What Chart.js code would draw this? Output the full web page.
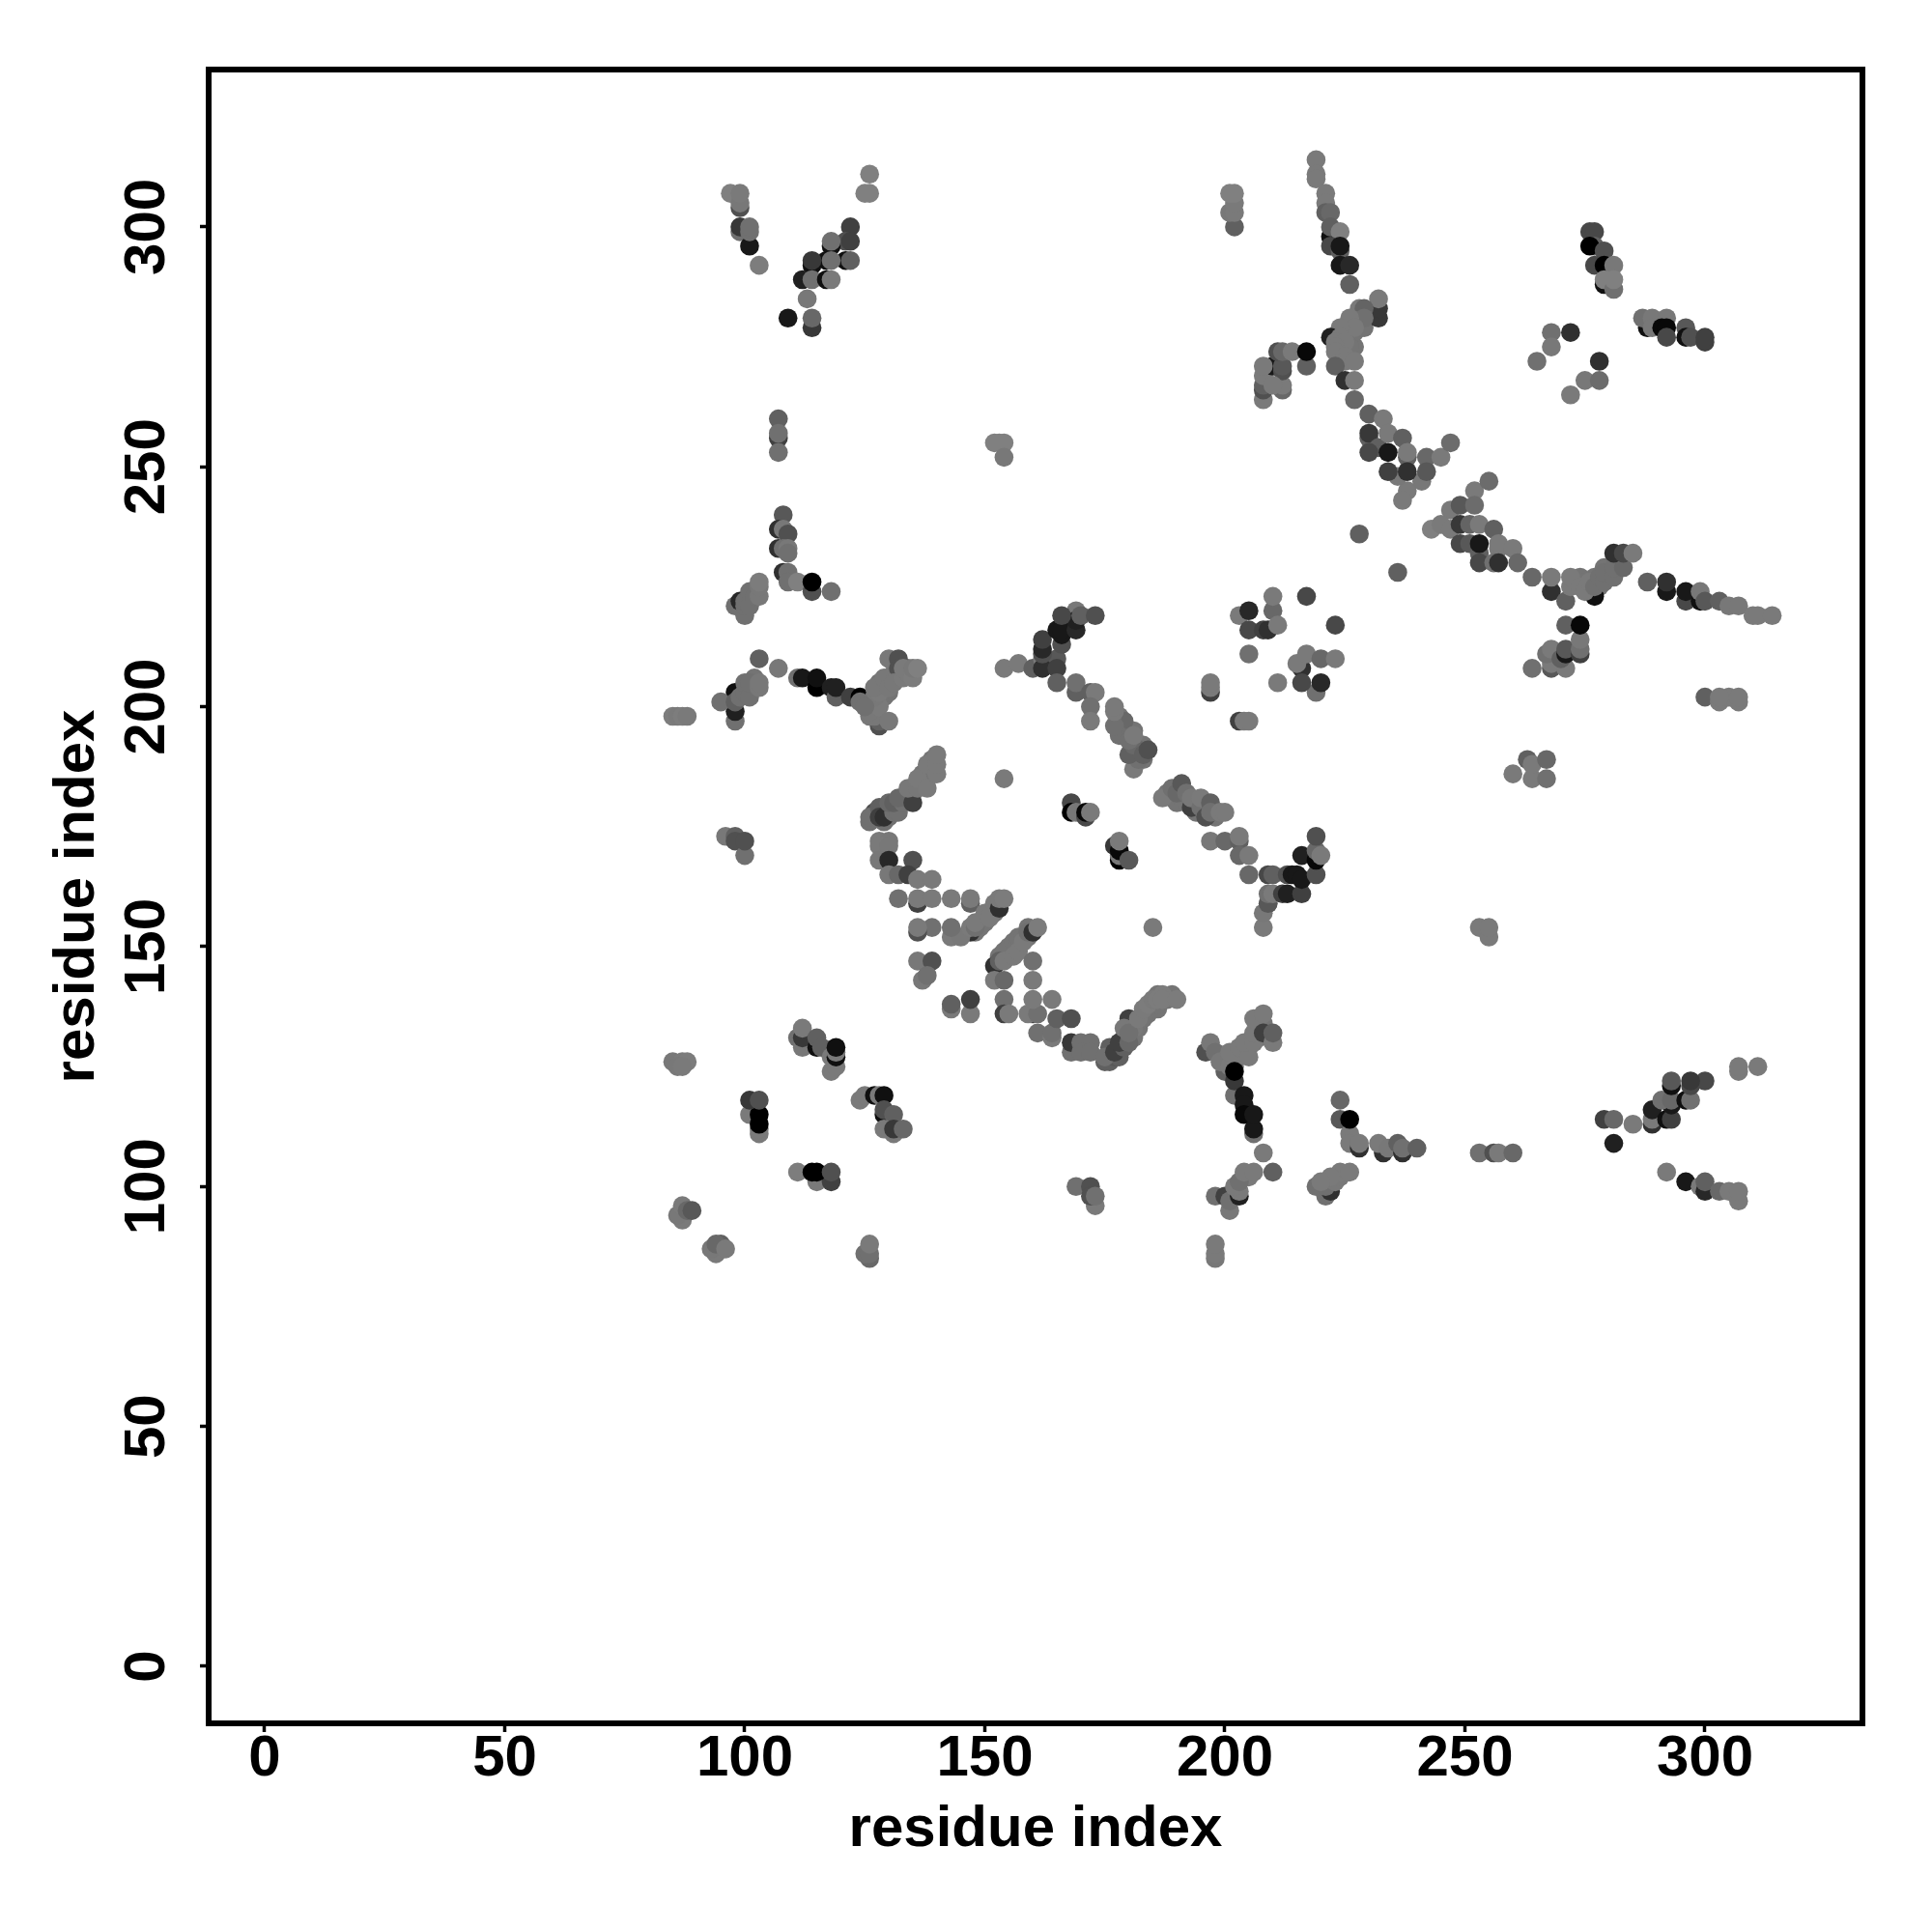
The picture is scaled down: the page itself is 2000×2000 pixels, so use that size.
<!DOCTYPE html>
<html>
<head>
<meta charset="utf-8">
<title>residue contacts</title>
<script src="https://cdn.jsdelivr.net/npm/chart.js@4"></script>
<style>
	html, body { margin: 0; padding: 0; background: #fff; }
	canvas { display: block; }
</style>
</head>
<body>
<canvas id="contactChart" width="2000" height="2000"></canvas>
<script>
// contacts in drawing order (one line per cluster)
var contactX = [
	127,128,129,130,131,133,134,135,136,137,137,138,138,139,139,139,
	179,179,181,182,182,184,184,186,185,186,187,188,189,186,183,181,
	148,149,149,150,150,151,152,152,153,
	153,154,155,155,156,157,157,158,159,159,
	273,274,275,276,277,278,279,280,280,282,282,
	226,227,225,226,227,228,229,230,229,224,226,
	178,178,179,180,181,182,182,183,183,
	188,189,190,191,192,194,195,194,198,
	202,204,205,207,207,208,200,202,
	129,128,130,131,134,129,130,127,128,
	100,102,102,102,
	97,99,99,99,99,99,101,101,101,103,
	126,125,126,122,121,122,118,118,121,122,117,118,114,114,112,114,117,118,113,109,114,114,
	107,107,107,107,152,153,154,154,
	108,107,108,109,107,108,109,109,108,109,109,111,114,114,118,
	98,99,100,100,100,101,101,102,103,103,103,
	103,107,111,112,115,115,118,119,119,122,124,
	85,86,87,88,98,98,98,95,98,99,100,100,101,101,103,103,
	128,128,126,127,126,128,127,128,130,127,129,130,130,132,132,131,133,134,133,135,135,136,
	124,125,
	96,98,98,100,100,
	126,129,127,126,128,130,128,129,131,132,130,131,133,132,135,134,136,136,138,138,140,140,140,
	128,130,128,130,128,130,135,
	130,132,134,136,139,132,136,136,139,143,147,147,
	143,147,145,147,148,148,150,151,152,153,153,154,139,136,136,143,
	136,139,137,138,143,143,147,147,
	152,152,154,153,154,156,157,158,159,160,161,160,160,
	154,154,155,
	160,159,161,160,164,161,164,164,165,168,168,168,170,172,170,172,
	175,176,177,178,176,175,177,179,178,180,180,179,181,180,182,183,184,185,187,186,187,190,
	196,197,198,200,199,201,203,201,203,205,204,206,206,206,208,208,210,210,
	202,202,202,204,204,204,206,206,206,208,
	201,198,200,201,203,203,202,205,203,204,206,210,
	198,198,198,
	224,224,226,226,226,228,228,233,232,234,237,236,237,240,
	253,256,257,260,
	221,219,222,221,223,224,224,226,222,220,
	279,281,285,281,289,289,289,292,293,293,291,293,296,297,293,297,300,297,293,
	307,307,311,
	292,296,299,300,300,303,305,307,307,
	85,87,88,86,87,
	111,112,112,112,115,115,116,118,118,119,119,119,119,
	103,103,101,103,103,101,103,
	124,125,127,128,129,129,129,131,129,131,131,133,
	111,115,118,114,115,118,
	87,86,87,88,89,
	94,93,95,94,96,
	126,125,126,126,
	169,173,172,172,173,
	202,201,202,202,201,202,
	219,219,219,221,221,221,222,222,222,224,222,224,224,224,226,226,
	232,232,232,228,229,229,226,227,224,222,224,223,225,223,223,225,225,227,223,225,227,227,
	208,208,208,208,210,208,212,212,212,210,212,211,212,214,217,217,
	230,233,230,230,232,234,237,230,234,238,238,242,245,247,238,237,236,241,234,238,242,
	228,236,
	247,243,245,247,249,249,249,252,252,255,251,253,256,251,253,253,257,257,260,253,256,257,261,
	264,268,268,271,277,272,272,274,275,276,277,278,279,279,281,281,283,281,283,285,
	288,292,292,296,296,299,299,300,303,305,307,310,311,314,
	264,268,268,267,268,271,270,271,271,274,274,274,271,274,
	300,303,305,307,303,307,
	260,263,264,264,267,267,
	253,255,255,
	210,210,217,203,205,205,208,209,211,223,205,216,215,217,220,223,211,219,216,220,
	197,197,197,203,204,205,
	154,157,160,162,165,162,165,162,162,162,166,166,165,166,169,169,169,170,166,173,
	165,169,169,172,173,172,172,
	181,182,180,181,179,179,178,177,177,177,180,181,183,184,
	187,189,190,191,192,193,193,195,195,197,196,197,199,200,
	197,200,203,203,203,205,205,
	208,208,209,209,209,210,209,210,212,213,213,216,214,215,216,216,219,219,219,220,219,
	154,185,
	168,168,169,171,171,172,
	178,178,177,178,178,180,
	276,277,277,276,279,277,279,281,279,279,281,281,
	288,287,289,289,292,291,292,296,292,296,297,300,300,
	268,268,265,272,278,275,278,272
];

var contactY = [
	177,178,178,179,179,181,182,182,184,184,186,185,186,186,187,189,
	130,131,133,134,133,136,137,137,138,138,139,139,140,140,135,131,
	153,154,155,155,156,157,157,158,159,
	148,149,149,150,151,151,152,152,152,154,
	226,227,226,225,227,225,229,227,229,229,230,
	273,275,274,277,278,281,280,282,279,275,275,
	196,198,195,195,195,192,191,192,189,
	182,181,180,181,180,180,178,178,177,
	127,128,129,131,133,134,126,125,
	204,205,206,207,208,202,203,200,201,
	204,205,204,206,
	307,304,305,307,299,300,296,299,300,292,
	311,307,307,300,297,297,296,297,293,293,293,293,292,293,289,289,289,289,285,281,279,281,
	260,256,257,253,255,255,255,252,
	240,237,237,236,233,233,233,232,228,228,226,226,224,226,224,
	221,222,219,221,222,224,221,223,223,225,226,
	210,208,206,206,204,206,204,202,204,202,202,
	198,198,198,198,197,199,203,201,201,202,203,205,202,205,204,205,
	196,197,198,198,199,200,202,203,197,204,206,204,210,210,208,205,206,207,208,206,208,208,
	201,200,
	173,173,172,169,172,
	176,176,178,177,179,177,177,177,178,178,180,180,180,181,180,183,183,185,183,188,186,188,190,
	172,172,171,171,168,168,168,
	165,165,165,164,164,160,159,160,160,160,159,160,
	152,153,152,154,154,155,157,156,159,158,160,160,154,153,154,154,
	147,147,143,144,137,138,136,139,
	146,143,143,147,147,148,149,151,153,153,154,147,143,
	139,136,136,
	136,136,136,139,139,132,131,132,135,135,128,130,130,130,128,128,
	126,126,127,127,129,127,128,129,130,130,135,133,133,132,135,137,138,139,140,139,139,139,
	128,130,128,124,126,125,127,128,129,127,130,130,132,135,136,132,130,132,
	119,122,124,119,117,115,111,112,115,107,
	95,98,98,97,98,99,100,102,101,103,103,103,
	85,86,88,
	118,114,111,109,114,108,109,107,109,108,107,109,108,108,
	107,107,107,107,
	98,100,99,100,101,102,103,103,102,101,
	114,114,113,109,113,114,116,114,114,117,118,118,118,118,121,121,122,122,122,
	124,125,125,
	103,101,100,99,101,99,99,97,99,
	126,126,126,125,125,
	131,129,131,133,129,131,129,124,127,125,127,128,129,
	111,112,115,113,115,118,118,
	118,119,119,119,119,115,116,115,112,111,112,112,
	103,101,101,103,103,103,
	93,94,96,95,95,
	86,87,88,88,87,
	85,86,86,88,
	100,96,100,98,98,
	300,303,303,305,307,307,
	314,311,310,307,305,303,303,298,300,299,296,295,296,292,292,288,
	281,283,285,283,283,281,281,279,279,277,277,276,276,275,274,273,272,272,271,268,268,264,
	264,266,267,269,271,271,266,267,270,267,271,274,274,274,271,274,
	261,260,256,257,254,257,256,253,253,252,253,252,252,255,245,243,248,247,249,249,249,
	236,228,
	241,237,238,237,242,238,234,245,242,247,238,238,237,234,232,234,233,234,233,230,230,230,230,
	227,224,227,222,223,225,227,225,224,226,225,227,226,228,227,229,229,232,232,232,
	226,224,226,222,224,222,224,222,222,221,221,219,219,219,
	208,208,209,211,212,208,210,211,212,211,212,214,217,217,
	202,201,202,201,202,202,
	186,189,185,188,185,189,
	154,152,154,
	220,223,223,219,220,216,216,216,217,217,211,208,209,211,210,210,205,203,205,205,
	203,204,205,197,197,197,
	208,209,208,210,210,208,208,211,212,214,213,215,216,216,220,216,218,219,219,219,
	205,203,205,203,203,200,197,
	187,189,190,192,194,197,194,196,199,200,193,194,190,191,
	181,183,182,184,182,179,181,179,181,180,177,178,178,178,
	172,172,172,173,169,169,165,
	154,157,159,159,161,161,165,165,161,161,165,161,165,165,164,169,165,168,170,169,173,
	185,154,
	180,178,178,177,178,178,
	168,169,171,170,172,168,
	299,299,296,296,295,292,292,292,288,289,287,289,
	279,281,281,279,281,279,279,279,277,277,277,276,277,
	278,275,272,278,272,268,268,265
];

// grey level of each contact, 0 black .. 128 mid grey
var contactShade = [
	116,116,116,116,116,116,116,116,116,116,116,116,116,116,116,116,
	116,116,116,116,116,116,116,116,116,116,116,116,116,116,116,116,
	116,116,116,116,116,116,116,116,116,
	116,116,116,116,116,116,116,116,116,116,
	116,116,116,116,116,116,116,116,116,116,116,
	116,116,116,116,116,116,116,116,116,116,116,
	116,116,116,116,116,116,116,116,116,
	116,116,116,116,116,116,116,116,116,
	116,116,116,116,116,116,116,116,
	116,116,116,116,116,116,116,116,116,
	116,116,116,116,
	128,80,120,122,112,56,24,112,112,125,
	128,128,128,64,80,64,16,112,16,96,16,112,16,56,32,112,16,122,120,24,56,104,
	96,64,112,112,128,128,128,120,
	88,48,120,80,48,112,120,112,48,112,112,128,80,0,112,
	112,40,112,112,112,112,112,112,120,120,124,
	96,120,112,24,0,16,32,96,32,64,0,
	125,122,125,122,112,32,16,112,96,112,112,112,112,112,120,120,
	80,96,120,120,120,122,120,122,120,120,120,120,120,80,80,120,122,122,122,124,120,128,
	112,112,
	120,96,80,112,80,
	112,112,80,112,96,112,64,48,112,112,104,96,112,104,64,120,120,122,122,122,122,122,122,
	122,120,122,120,120,40,80,
	120,104,64,122,122,112,64,122,122,122,96,122,
	122,48,120,122,112,122,122,122,122,48,122,124,112,80,122,112,
	120,80,120,112,122,96,122,64,
	48,122,104,96,122,122,122,122,112,48,124,112,122,
	112,64,122,
	64,122,112,122,122,112,122,112,96,80,112,56,112,112,112,112,
	96,96,88,96,96,112,64,96,64,104,64,120,120,112,122,122,124,122,124,124,124,124,
	80,120,112,96,120,122,122,122,122,122,122,122,122,122,122,64,122,96,
	112,56,0,24,24,8,112,24,24,122,
	120,112,64,112,32,122,122,122,112,122,122,96,
	120,122,122,
	104,88,122,122,0,48,122,48,122,120,48,96,112,96,
	112,80,122,104,
	112,112,48,112,120,120,122,122,122,122,
	64,104,122,32,48,122,32,16,64,24,112,104,16,112,16,72,72,56,88,
	122,122,122,
	122,24,122,40,96,104,122,122,122,
	120,122,124,120,122,
	112,120,56,122,16,96,96,122,122,122,16,122,16,
	122,122,122,0,0,56,80,
	122,122,16,122,16,16,80,96,122,122,56,104,
	125,122,64,0,0,80,
	122,120,122,104,88,
	122,120,96,104,122,
	104,112,112,122,
	112,122,80,80,112,
	96,120,122,122,128,128,
	122,122,122,122,122,96,104,16,96,128,72,96,24,24,40,96,
	56,56,122,122,100,112,122,122,122,32,122,122,122,122,122,122,122,122,96,48,122,104,
	122,80,96,122,24,122,104,122,80,122,88,80,104,122,96,8,
	96,122,96,56,96,122,96,72,24,96,122,104,122,108,122,122,120,120,64,48,88,
	96,96,
	122,128,122,122,88,56,72,122,108,108,100,122,96,88,96,24,122,122,122,72,112,48,104,
	104,48,122,96,16,122,122,122,122,122,112,112,112,112,112,112,104,48,72,122,
	96,24,48,72,24,16,120,88,96,120,120,122,122,122,
	112,88,122,112,122,122,96,24,88,64,112,120,96,8,
	96,122,122,122,122,122,
	122,96,122,122,112,104,
	122,122,122,
	104,122,72,122,40,72,64,48,122,72,112,48,122,122,104,122,122,112,72,40,
	64,122,122,64,122,122,
	122,122,96,122,88,48,64,80,40,64,80,24,24,24,120,40,32,96,72,80,
	96,96,112,96,122,112,122,
	122,112,96,104,64,104,112,112,122,122,112,122,96,80,
	122,112,104,88,112,64,120,112,122,96,80,112,122,122,
	120,104,96,122,104,122,104,
	122,120,120,88,112,122,72,96,64,32,80,64,24,24,24,32,80,8,104,122,80,
	122,122,
	72,0,120,72,8,122,
	0,120,56,8,122,88,
	72,72,96,0,80,72,0,120,16,128,112,128,
	16,112,120,120,120,8,8,88,72,16,80,64,64,
	112,120,112,48,48,120,108,122
];

var tickValues = [0, 50, 100, 150, 200, 250, 300];
var axisTitle = 'residue index';

var contactPoints = contactX.map(function(x, i) {
	return { x: x, y: contactY[i] };
});
var contactColors = contactShade.map(function(s) {
	return 'rgb(' + s + ',' + s + ',' + s + ')';
});

// box around the plot, R style
var plotBox = {
	id: 'plotBox',
	afterDraw: function(chart) {
		var a = chart.chartArea, ctx = chart.ctx;
		ctx.save();
		ctx.strokeStyle = '#000';
		ctx.lineWidth = 6;
		ctx.strokeRect(a.left, a.top, a.right - a.left, a.bottom - a.top);
		ctx.restore();
	}
};

function useTicks(scale) {
	scale.ticks = tickValues.map(function(v) { return { value: v }; });
}

var labelFont = { family: '"Liberation Sans"', weight: 'bold', size: 60, lineHeight: 1 };

new Chart(document.getElementById('contactChart').getContext('2d'), {
	type: 'scatter',
	data: {
		datasets: [{
			data: contactPoints,
			pointBackgroundColor: contactColors,
			pointBorderWidth: 0,
			pointRadius: 9.8,
			pointHoverRadius: 9.8
		}]
	},
	plugins: [plotBox],
	options: {
		responsive: false,
		animation: false,
		events: [],
		layout: { padding: { top: 72, right: 72, left: 0, bottom: 0 } },
		plugins: { legend: { display: false }, tooltip: { enabled: false }, title: { display: false } },
		scales: {
			x: {
				type: 'linear',
				min: -11.67,
				max: 332.8,
				afterBuildTicks: useTicks,
				afterFit: function(scale) { scale.height = 216; },
				border: { display: false },
				grid: { drawOnChartArea: false, tickLength: 9, tickWidth: 3.5, tickColor: '#000' },
				ticks: {
					color: '#000', font: labelFont, padding: -2, maxRotation: 0, minRotation: 0,
					callback: function(v) { return String(v); }
				},
				title: { display: true, text: axisTitle, color: '#000', font: labelFont, padding: { top: 0, bottom: 76 } }
			},
			y: {
				type: 'linear',
				min: -11.88,
				max: 332.8,
				afterBuildTicks: useTicks,
				afterFit: function(scale) { scale.width = 216; },
				border: { display: false },
				grid: { drawOnChartArea: false, tickLength: 9, tickWidth: 3.5, tickColor: '#000' },
				ticks: {
					color: '#000', font: labelFont, padding: 3, minRotation: 90, maxRotation: 90, crossAlign: 'center',
					callback: function(v) { return String(v); }
				},
				title: { display: true, text: axisTitle, color: '#000', font: labelFont, padding: { top: 50, bottom: 0 } }
			}
		}
	}
});
</script>
</body>
</html>
